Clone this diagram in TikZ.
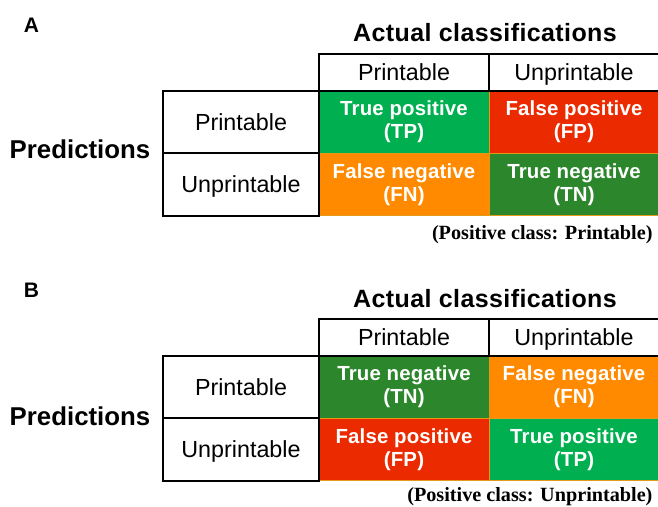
\documentclass[tikz,border=0pt]{standalone}
\usepackage{fontspec}
\setmainfont{Liberation Sans}
\newfontfamily\footfont{Liberation Serif}
\definecolor{tpgreen}{HTML}{00B050}
\definecolor{fpred}{HTML}{EB2A00}
\definecolor{fnorange}{HTML}{FF8A00}
\definecolor{tndkgreen}{HTML}{2C862C}
\definecolor{celledge}{HTML}{E39A1A}
\begin{document}
\begin{tikzpicture}[x=1pt,y=-1pt,
  panellabel/.style={font=\bfseries\fontsize{21}{21}\selectfont, anchor=base},
  titletext/.style={font=\bfseries\fontsize{25}{25}\selectfont\addfontfeature{LetterSpace=1.6}, anchor=base},
  predtext/.style={font=\bfseries\fontsize{25.8}{25.8}\selectfont, anchor=base},
  boxed/.style={draw=black, line width=1.6pt, inner sep=0pt, outer sep=0pt,
     font=\fontsize{23.3}{23.3}\selectfont, text height=21pt, text depth=4.2pt},
  hdrbox/.style={boxed, minimum width=170pt, minimum height=37pt},
  rowbox/.style={boxed, minimum width=156pt, minimum height=62.5pt},
  cellbox/.style={draw=celledge, line width=0.7pt, inner sep=0pt, outer sep=0pt,
     minimum width=170pt, minimum height=62.5pt, text=white, align=center,
     font=\bfseries\fontsize{20.4}{23}\selectfont\addfontfeature{LetterSpace=0.8}},
  foottext/.style={font=\footfont\bfseries\fontsize{20.2}{20.2}\selectfont, anchor=base east}
]
\useasboundingbox (0,0) rectangle (658,506);
\clip (0,0) rectangle (658,506);
\fill[white] (0,0) rectangle (658,506);

% ---------- Panel A ----------
\node[panellabel] (labA) at (31.5,32) {A};
\node[titletext] (actA) at (485,41.3) {Actual classifications};
\node[cellbox, fill=tpgreen]   (tpA) at (404,122)   {True positive\\(TP)};
\node[cellbox, fill=fpred]     (fpA) at (574,122)   {False positive\\(FP)};
\node[cellbox, fill=fnorange]  (fnA) at (404,184.5) {False negative\\(FN)};
\node[cellbox, fill=tndkgreen] (tnA) at (574,184.5) {True negative\\(TN)};
\node[hdrbox] (hpA) at (404,72.3) {Printable};
\node[hdrbox] (huA) at (574,72.3) {Unprintable};
\node[rowbox] (rpA) at (241,122)   {Printable};
\node[rowbox] (ruA) at (241,184.5) {Unprintable};
\node[predtext] (predA) at (80,158.3) {Predictions};
\node[foottext] (footA) at (656,239) {(Positive class: Printable)};

% ---------- Panel B ----------
\begin{scope}[shift={(0,265)}]
\node[panellabel] (labB) at (31.5,32) {B};
\node[titletext] (actB) at (485,42.3) {Actual classifications};
\node[cellbox, fill=tndkgreen] (tnB) at (404,122)   {True negative\\(TN)};
\node[cellbox, fill=fnorange]  (fnB) at (574,122)   {False negative\\(FN)};
\node[cellbox, fill=fpred]     (fpB) at (404,184.5) {False positive\\(FP)};
\node[cellbox, fill=tpgreen]   (tpB) at (574,184.5) {True positive\\(TP)};
\node[hdrbox] (hpB) at (404,72.3) {Printable};
\node[hdrbox] (huB) at (574,72.3) {Unprintable};
\node[rowbox] (rpB) at (241,122)   {Printable};
\node[rowbox] (ruB) at (241,184.5) {Unprintable};
\node[predtext] (predB) at (80,160) {Predictions};
\node[foottext] (footB) at (656,236.5) {(Positive class: Unprintable)};
\end{scope}
\end{tikzpicture}
\end{document}
